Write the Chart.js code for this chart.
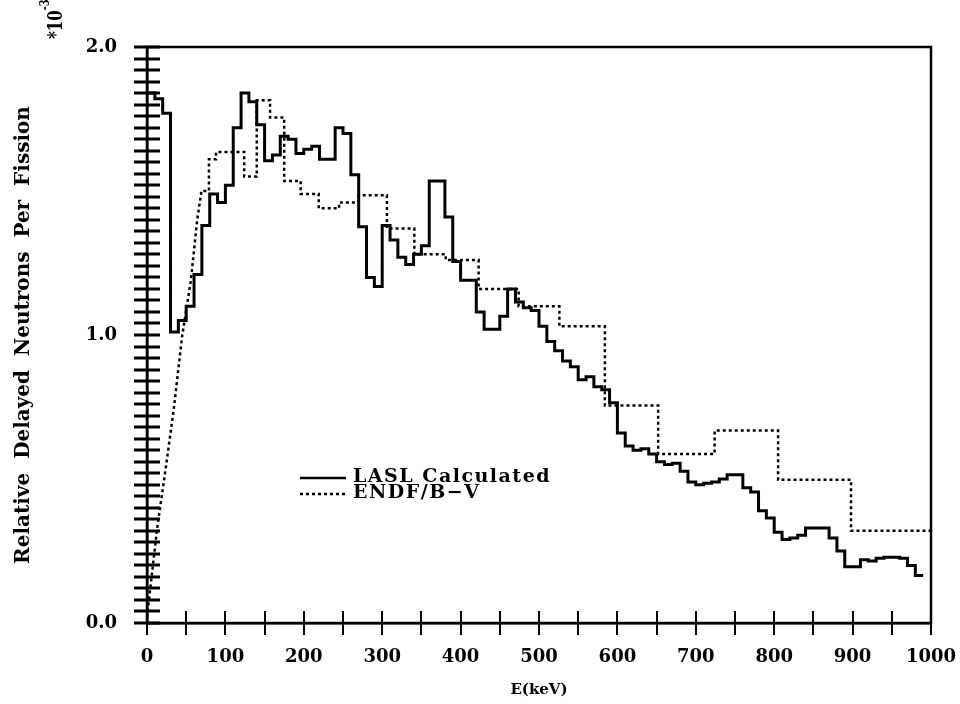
<!DOCTYPE html>
<html>
<head>
<meta charset="utf-8">
<script src="https://cdn.jsdelivr.net/npm/chart.js@4"></script>
<style>
  html, body { margin: 0; padding: 0; background: #fff; }
</style>
</head>
<body>
<canvas id="chart" width="960" height="704"></canvas>
<script>
// Delayed neutron spectrum, values in units of 1e-3 per fission

// LASL calculation: 10 keV bins starting at 0 keV
const laslBinWidth = 10;
const laslValues = [
  1.84, 1.82, 1.77, 1.01, 1.05, 1.10, 1.21, 1.38, 1.49, 1.46,
  1.52, 1.72, 1.84, 1.81, 1.73, 1.605, 1.625, 1.69, 1.68, 1.63,
  1.645, 1.655, 1.61, 1.61, 1.72, 1.70, 1.556, 1.376, 1.20, 1.168,
  1.38, 1.33, 1.27, 1.245, 1.28, 1.31, 1.535, 1.535, 1.41, 1.255,
  1.19, 1.19, 1.08, 1.02, 1.02, 1.065, 1.16, 1.115, 1.095, 1.085,
  1.03, 0.977, 0.945, 0.91, 0.89, 0.845, 0.855, 0.82, 0.81, 0.765,
  0.66, 0.615, 0.60, 0.605, 0.587, 0.56, 0.55, 0.555, 0.527, 0.49,
  0.48, 0.485, 0.49, 0.50, 0.515, 0.515, 0.47, 0.455, 0.39, 0.365,
  0.315, 0.29, 0.295, 0.305, 0.33, 0.33, 0.33, 0.295, 0.25, 0.195,
  0.195, 0.22, 0.215, 0.225, 0.228, 0.228, 0.225, 0.20, 0.165
];

// ENDF/B-V: linear rise at low energy, then constant groups
const endfRiseE = [0, 13, 24, 34, 45, 56, 64, 69];
const endfRiseY = [0.02, 0.33, 0.54, 0.74, 1.0, 1.19, 1.40, 1.49];
const endfEdges = [69, 79, 88, 124, 140, 157, 175, 196, 219, 245, 270, 306, 341, 381, 423, 474, 526, 584, 652, 724, 805, 898, 1000];
const endfValues = [1.50, 1.61, 1.635, 1.55, 1.815, 1.755, 1.535, 1.49, 1.44, 1.46, 1.485, 1.37, 1.28, 1.26, 1.16, 1.10, 1.03, 0.755, 0.587, 0.668, 0.497, 0.32];

// axis ticks: marks every step, labels on the coarser step
const xMin = 0, xMax = 1000, xTickStep = 50, xLabelStep = 100;
const yMin = 0, yMax = 2, yTickStep = 0.04, yLabelStep = 1;

const FONT = "'DejaVu Serif', serif";

const laslPoints = laslValues.map((v, i) => ({ x: i * laslBinWidth, y: v }));
laslPoints.push({ x: laslValues.length * laslBinWidth, y: laslValues[laslValues.length - 1] });

const endfPoints = endfRiseE.map((e, i) => ({ x: e, y: endfRiseY[i] }));
endfValues.forEach((v, i) => {
  endfPoints.push({ x: endfEdges[i], y: v });
  endfPoints.push({ x: endfEdges[i + 1], y: v });
});

// tick marks crossing the axes, frame, legend and the *10^-3 factor
const decorations = {
  id: 'decorations',
  afterDraw(chart) {
    const { ctx, chartArea: a, scales: { x, y } } = chart;
    ctx.save();
    ctx.fillStyle = '#000';
    const nx = Math.round((xMax - xMin) / xTickStep);
    for (let i = 0; i <= nx; i++) {
      const px = Math.round(x.getPixelForValue(xMin + i * xTickStep));
      ctx.fillRect(px - 1, a.bottom - 12, 2, 24);
    }
    const ny = Math.round((yMax - yMin) / yTickStep);
    for (let i = 0; i <= ny; i++) {
      const py = Math.round(y.getPixelForValue(yMin + i * yTickStep));
      ctx.fillRect(a.left - 13, py - 1.5, 26, 3);
    }

    ctx.strokeStyle = '#000';
    ctx.lineWidth = 2.5;
    ctx.strokeRect(a.left, a.top, a.right - a.left, a.bottom - a.top);

    // legend
    ctx.font = 'bold 19px ' + FONT;
    ctx.textBaseline = 'middle';
    ctx.letterSpacing = '1.5px';
    ctx.beginPath();
    ctx.moveTo(300, 478);
    ctx.lineTo(346, 478);
    ctx.stroke();
    ctx.fillText('LASL Calculated', 353, 477);
    ctx.setLineDash([3, 3]);
    ctx.beginPath();
    ctx.moveTo(300, 494);
    ctx.lineTo(346, 494);
    ctx.stroke();
    ctx.setLineDash([]);
    ctx.fillText('ENDF/B\u2212V', 353, 493);

    // scale factor, written bottom to top
    ctx.letterSpacing = '0px';
    ctx.translate(62, 39);
    ctx.rotate(-Math.PI / 2);
    ctx.scale(0.75, 1);
    ctx.textBaseline = 'alphabetic';
    ctx.font = 'bold 20px ' + FONT;
    ctx.fillText('*10', 0, 0);
    const w = ctx.measureText('*10').width;
    ctx.font = 'bold 13px ' + FONT;
    ctx.fillText('-3', w, -13);
    ctx.restore();
  }
};

new Chart(document.getElementById('chart'), {
  type: 'line',
  data: {
    datasets: [
      {
        label: 'LASL Calculated',
        data: laslPoints,
        stepped: true,
        borderColor: '#000',
        borderWidth: 3,
        pointRadius: 0,
        fill: false
      },
      {
        label: 'ENDF/B-V',
        data: endfPoints,
        borderColor: '#000',
        borderWidth: 2.5,
        borderDash: [3, 3],
        pointRadius: 0,
        fill: false
      }
    ]
  },
  options: {
    responsive: false,
    animation: false,
    layout: { padding: { top: 47, right: 29, left: 0, bottom: 0 } },
    plugins: {
      legend: { display: false },
      tooltip: { enabled: false }
    },
    scales: {
      x: {
        type: 'linear',
        min: xMin,
        max: xMax,
        afterFit: s => { s.height = 81; s.paddingLeft = 0; s.paddingRight = 0; },
        ticks: {
          stepSize: xLabelStep,
          autoSkip: false,
          maxRotation: 0,
          padding: 16,
          color: '#000',
          font: { family: FONT, size: 18, weight: 'bold' },
          callback: v => String(v)
        },
        grid: { display: false },
        border: { color: '#000', width: 2.5 },
        title: {
          display: true,
          text: 'E(keV)',
          color: '#000',
          font: { family: FONT, size: 15, weight: 'bold' },
          padding: { top: 0, bottom: 5 }
        }
      },
      y: {
        min: yMin,
        max: yMax,
        afterFit: s => { s.width = 147; s.paddingTop = 0; s.paddingBottom = 0; },
        ticks: {
          stepSize: yLabelStep,
          autoSkip: false,
          padding: 22,
          color: '#000',
          font: { family: FONT, size: 18, weight: 'bold' },
          callback: v => Number(v).toFixed(1)
        },
        grid: { display: false },
        border: { color: '#000', width: 2.5 },
        title: {
          display: true,
          text: 'Relative  Delayed  Neutrons  Per  Fission',
          color: '#000',
          font: { family: FONT, size: 20, weight: 'bold' },
          padding: { top: 12, bottom: 0 }
        }
      }
    }
  },
  plugins: [decorations]
});
</script>
</body>
</html>
